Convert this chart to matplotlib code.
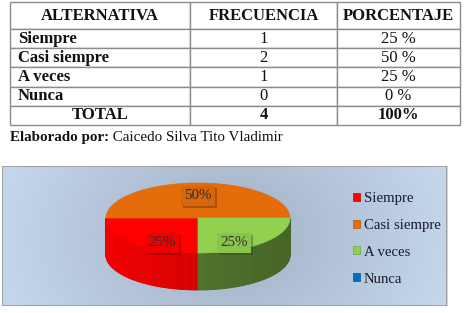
"""Tabla de frecuencias + gráfico de pastel 3D (Siempre / Casi siempre / A veces / Nunca)"""

import numpy as np
import matplotlib
matplotlib.use("Agg")
import matplotlib.pyplot as plt
from matplotlib.table import Table
from matplotlib.patches import Polygon, Rectangle, Patch
from matplotlib.colors import to_rgb
import matplotlib.patheffects as pe

plt.rcParams['font.family'] = ['Liberation Serif', 'DejaVu Serif']

# datos
categorias = ['Siempre', 'Casi siempre', 'A veces', 'Nunca']
frecuencia = [1, 2, 1, 0]
porcentaje = [25, 50, 25, 0]
total_frec = 4
total_pct = '100%'
encabezados = ['ALTERNATIVA', 'FRECUENCIA', 'PORCENTAJE']
autor = 'Caicedo Silva Tito Vladimir'

colores = ['#FF0000', '#E46C0A', '#92D050', '#0070C0']
sombra_lado = [0.85, 0.7, 0.55, 0.6]   # oscurecimiento del borde 3D

W, H = 465, 313
fig = plt.figure(figsize=(W / 100, H / 100), dpi=100)

# ---------------- tabla ----------------
tab_ax = fig.add_axes([10 / W, 1 - 125 / H, 450 / W, 123 / H])
tab_ax.axis('off')
tabla = Table(tab_ax, bbox=[0, 0, 1, 1])
anchos = [180 / 450, 147 / 450, 123 / 450]
h_head, h_row = 27 / 123, 19.2 / 123

filas = [[encabezados[0], encabezados[1], encabezados[2]]]
for cat, f, p in zip(categorias, frecuencia, porcentaje):
    filas.append([cat, str(f), f'{p} %'])
filas.append(['TOTAL', str(total_frec), total_pct])

for i, fila in enumerate(filas):
    for j, txt in enumerate(fila):
        izq = (j == 0 and 0 < i < len(filas) - 1)
        c = tabla.add_cell(i, j, anchos[j], h_head if i == 0 else h_row,
                           text=txt, loc='left' if izq else 'center',
                           facecolor='white', edgecolor='#8c8c8c')
        c.PAD = 0.045
        c.set_linewidth(1.0)
        negrita = i == 0 or i == len(filas) - 1 or j == 0
        c.get_text().set_fontsize(12)
        c.get_text().set_fontweight('bold' if negrita else 'normal')
        c.get_text().set_color('#111111')
tabla.auto_set_font_size(False)
tab_ax.add_table(tabla)

# pie de tabla
t1 = fig.text(10 / W, 1 - 141 / H, 'Elaborado por:', fontsize=10.8,
              fontweight='bold', va='baseline', color='#111111')
fig.canvas.draw()
bb = t1.get_window_extent()
fig.text(bb.x1 / W, 1 - 141 / H, ' ' + autor, fontsize=10.8,
         va='baseline', color='#111111')

# ---------------- gráfico ----------------
x0, x1, y0, y1 = 2, 447, 166, 306
ax = fig.add_axes([x0 / W, 1 - y1 / H, (x1 - x0) / W, (y1 - y0) / H])
ax.set_xlim(x0, x1)
ax.set_ylim(y1, y0)
ax.axis('off')

# fondo degradado
gx = np.linspace(0, 1, 300)
gy = np.linspace(0, 1, 100)
GX, GY = np.meshgrid(gx, gy)
d = np.clip(np.sqrt(((GX - 0.5) / 0.5) ** 2 * 0.85 + ((GY - 0.5) / 0.5) ** 2 * 0.15), 0, 1)
centro = np.array(to_rgb('#9EADC1'))
borde = np.array(to_rgb('#C6D8EE'))
img = centro + (borde - centro) * d[..., None] ** 0.9
ax.imshow(img, extent=(x0, x1, y1, y0), aspect='auto', zorder=0)
ax.add_patch(Rectangle((x0, y0), x1 - x0, y1 - y0, fill=False,
                       edgecolor='#a3a3a3', lw=1.5, zorder=10))

# pastel 3D
cx, cy, a, b, prof = 198, 218, 92, 35, 37
total = sum(porcentaje)
inicio = 270.0
angulos = []
ang = inicio
for p in porcentaje:
    barrido = 360.0 * p / total
    angulos.append((ang - barrido, ang))   # sentido horario
    ang -= barrido


def borde_elipse(t, dy=0.0):
    r = np.radians(t)
    return np.column_stack([cx + a * np.cos(r), cy - b * np.sin(r) + dy])


# caras laterales (solo la mitad frontal)
for (t0, t1_), col, f in zip(angulos, colores, sombra_lado):
    if t1_ - t0 <= 0:
        continue
    lo, hi = t0 % 360, (t0 % 360) + (t1_ - t0)
    for k in range(2):
        s0, s1 = max(lo, 180 + 360 * k), min(hi, 360 + 360 * k)
        if s1 <= s0:
            continue
        pasos = np.linspace(s0, s1, max(int(s1 - s0), 2) + 1)
        for u, v in zip(pasos[:-1], pasos[1:]):
            m = np.radians((u + v) / 2)
            fac = f * (1.0 + 0.12 * (-np.cos(m)))
            c = np.clip(np.array(to_rgb(col)) * fac, 0, 1)
            arriba = borde_elipse(np.array([u, v]))
            abajo = borde_elipse(np.array([v, u]), prof)
            ax.add_patch(Polygon(np.vstack([arriba, abajo]), closed=True,
                                 facecolor=c, edgecolor=c, lw=0.6, zorder=2))

# cara superior
for (t0, t1_), col in zip(angulos, colores):
    if t1_ - t0 <= 0:
        continue
    arco = borde_elipse(np.linspace(t0, t1_, 120))
    ax.add_patch(Polygon(np.vstack([[cx, cy], arco]), closed=True,
                         facecolor=col, edgecolor=col, lw=0.5, zorder=3))

# etiquetas de porcentaje
for (t0, t1_), col, p in zip(angulos, colores, porcentaje):
    if p == 0:
        continue
    m = np.radians((t0 + t1_) / 2)
    lx = cx + 0.55 * a * np.cos(m)
    ly = cy - 0.63 * b * np.sin(m) + (0.25 * prof if np.sin(m) < 0 else 0)
    fondo = np.clip(np.array(to_rgb(col)) * 0.94, 0, 1)
    t = ax.text(lx, ly, f'{p}%', fontsize=10.8, color='#303030',
                ha='center', va='center', zorder=5,
                bbox=dict(boxstyle='square,pad=0.22', fc=fondo, ec='none'))
    t.get_bbox_patch().set_path_effects(
        [pe.SimplePatchShadow(offset=(1.5, -1.5), alpha=0.35), pe.Normal()])

# leyenda
manejadores = [Patch(facecolor=c, edgecolor=np.clip(np.array(to_rgb(c)) * 0.8, 0, 1), lw=0.5)
               for c in colores]
ax.legend(manejadores, categorias, loc='upper left', bbox_to_anchor=(353, 192),
          bbox_transform=ax.transData, frameon=False, fontsize=10.6,
          handlelength=0.45, handleheight=0.45, handletextpad=0.3,
          labelspacing=0.94, borderpad=0, borderaxespad=0, labelcolor='#1a1a2a')

fig.savefig('out.png', dpi=100)
